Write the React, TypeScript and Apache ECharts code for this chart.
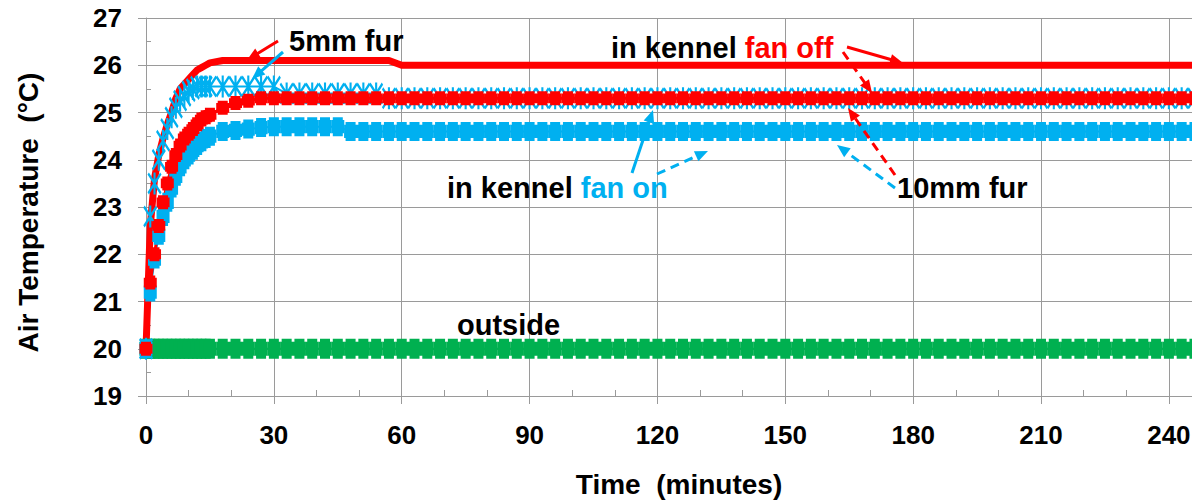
import React, { useEffect, useRef } from "react";
import * as echarts from "echarts";

// Time axis (minutes): one reading per minute during warm-up, then every 3 minutes
const minutes = [
  0, 1, 2, 3, 4, 5, 6, 7, 8, 9, 10, 11, 12, 13, 14, 15,
  18, 21, 24, 27, 30, 33, 36, 39, 42, 45, 48, 51, 54, 57,
  60, 63, 66, 69, 72, 75, 78, 81, 84, 87, 90, 93, 96, 99,
  102, 105, 108, 111, 114, 117, 120, 123, 126, 129, 132, 135, 138, 141,
  144, 147, 150, 153, 156, 159, 162, 165, 168, 171, 174, 177, 180, 183,
  186, 189, 192, 195, 198, 201, 204, 207, 210, 213, 216, 219, 222, 225,
  228, 231, 234, 237, 240, 243, 246,
];

// outside air
const outside = [
  20.0, 20.0, 20.0, 20.0, 20.0, 20.0, 20.0, 20.0, 20.0, 20.0, 20.0, 20.0, 20.0, 20.0, 20.0, 20.0,
  20.0, 20.0, 20.0, 20.0, 20.0, 20.0, 20.0, 20.0, 20.0, 20.0, 20.0, 20.0, 20.0, 20.0,
  20.0, 20.0, 20.0, 20.0, 20.0, 20.0, 20.0, 20.0, 20.0, 20.0, 20.0, 20.0, 20.0, 20.0,
  20.0, 20.0, 20.0, 20.0, 20.0, 20.0, 20.0, 20.0, 20.0, 20.0, 20.0, 20.0, 20.0, 20.0,
  20.0, 20.0, 20.0, 20.0, 20.0, 20.0, 20.0, 20.0, 20.0, 20.0, 20.0, 20.0, 20.0, 20.0,
  20.0, 20.0, 20.0, 20.0, 20.0, 20.0, 20.0, 20.0, 20.0, 20.0, 20.0, 20.0, 20.0, 20.0,
  20.0, 20.0, 20.0, 20.0, 20.0, 20.0, 20.0,
];

// in kennel, fan on, 10mm fur
const fanOn10mm = [
  20.0, 21.2, 21.9, 22.4, 22.8, 23.1, 23.4, 23.65, 23.85, 24.0, 24.1, 24.2, 24.3, 24.38, 24.45, 24.5,
  24.6, 24.62, 24.65, 24.68, 24.7, 24.7, 24.7, 24.7, 24.7, 24.7, 24.6, 24.6, 24.6, 24.6,
  24.6, 24.6, 24.6, 24.6, 24.6, 24.6, 24.6, 24.6, 24.6, 24.6, 24.6, 24.6, 24.6, 24.6,
  24.6, 24.6, 24.6, 24.6, 24.6, 24.6, 24.6, 24.6, 24.6, 24.6, 24.6, 24.6, 24.6, 24.6,
  24.6, 24.6, 24.6, 24.6, 24.6, 24.6, 24.6, 24.6, 24.6, 24.6, 24.6, 24.6, 24.6, 24.6,
  24.6, 24.6, 24.6, 24.6, 24.6, 24.6, 24.6, 24.6, 24.6, 24.6, 24.6, 24.6, 24.6, 24.6,
  24.6, 24.6, 24.6, 24.6, 24.6, 24.6, 24.6,
];

// in kennel, fan on, 5mm fur
const fanOn5mm = [
  20.0, 22.8, 23.5, 24.0, 24.4, 24.65, 24.9, 25.1, 25.25, 25.35, 25.45, 25.5, 25.55, 25.55, 25.55, 25.55,
  25.55, 25.55, 25.55, 25.55, 25.55, 25.4, 25.4, 25.4, 25.4, 25.4, 25.4, 25.4, 25.4, 25.3,
  25.3, 25.3, 25.3, 25.3, 25.3, 25.3, 25.3, 25.3, 25.3, 25.3, 25.3, 25.3, 25.3, 25.3,
  25.3, 25.3, 25.3, 25.3, 25.3, 25.3, 25.3, 25.3, 25.3, 25.3, 25.3, 25.3, 25.3, 25.3,
  25.3, 25.3, 25.3, 25.3, 25.3, 25.3, 25.3, 25.3, 25.3, 25.3, 25.3, 25.3, 25.3, 25.3,
  25.3, 25.3, 25.3, 25.3, 25.3, 25.3, 25.3, 25.3, 25.3, 25.3, 25.3, 25.3, 25.3, 25.3,
  25.3, 25.3, 25.3, 25.3, 25.3, 25.3, 25.3,
];

// in kennel, fan off, 10mm fur
const fanOff10mm = [
  20.0, 21.4, 22.0, 22.6, 23.1, 23.5, 23.85, 24.1, 24.3, 24.45, 24.55, 24.65, 24.75, 24.85, 24.9, 24.95,
  25.1, 25.2, 25.25, 25.3, 25.3, 25.3, 25.3, 25.3, 25.3, 25.3, 25.3, 25.3, 25.3, 25.3,
  25.3, 25.3, 25.3, 25.3, 25.3, 25.3, 25.3, 25.3, 25.3, 25.3, 25.3, 25.3, 25.3, 25.3,
  25.3, 25.3, 25.3, 25.3, 25.3, 25.3, 25.3, 25.3, 25.3, 25.3, 25.3, 25.3, 25.3, 25.3,
  25.3, 25.3, 25.3, 25.3, 25.3, 25.3, 25.3, 25.3, 25.3, 25.3, 25.3, 25.3, 25.3, 25.3,
  25.3, 25.3, 25.3, 25.3, 25.3, 25.3, 25.3, 25.3, 25.3, 25.3, 25.3, 25.3, 25.3, 25.3,
  25.3, 25.3, 25.3, 25.3, 25.3, 25.3, 25.3,
];

// in kennel, fan off, 5mm fur
const fanOff5mm = [
  20.0, 22.6, 23.6, 24.1, 24.45, 24.75, 25.0, 25.3, 25.5, 25.6, 25.7, 25.8, 25.9, 25.95, 26.0, 26.05,
  26.1, 26.1, 26.1, 26.1, 26.1, 26.1, 26.1, 26.1, 26.1, 26.1, 26.1, 26.1, 26.1, 26.1,
  26.0, 26.0, 26.0, 26.0, 26.0, 26.0, 26.0, 26.0, 26.0, 26.0, 26.0, 26.0, 26.0, 26.0,
  26.0, 26.0, 26.0, 26.0, 26.0, 26.0, 26.0, 26.0, 26.0, 26.0, 26.0, 26.0, 26.0, 26.0,
  26.0, 26.0, 26.0, 26.0, 26.0, 26.0, 26.0, 26.0, 26.0, 26.0, 26.0, 26.0, 26.0, 26.0,
  26.0, 26.0, 26.0, 26.0, 26.0, 26.0, 26.0, 26.0, 26.0, 26.0, 26.0, 26.0, 26.0, 26.0,
  26.0, 26.0, 26.0, 26.0, 26.0, 26.0, 26.0,
];

const X_MIN = 0;
const X_MAX = 270;
const X_STEP = 30;
const Y_MIN = 19;
const Y_MAX = 27;
const Y_STEP = 1;

const RED = "#ff0000";
const BLUE = "#00b0f0";
const GREEN = "#00b050";
const GRID = "#9a9a9a";
const FONT = "'Liberation Sans', Arial, Helvetica, sans-serif";

const BLOCK =
  "path://M1.5,0L11.5,0L11.5,3L13,3L13,17L11.5,17L11.5,20L1.5,20L1.5,17L0,17L0,3L1.5,3Z";
const STAR =
  "path://M8.5,0L11.5,0L11.5,20L8.5,20Z M0,2L2,0L20,18L18,20Z M18,0L20,2L2,20L0,18Z";

function pairs(values: number[]) {
  return minutes.map((t, i) => [t, values[i]]);
}

function arrow(x1: number, y1: number, x2: number, y2: number, color: string, dashed: boolean) {
  const dx = x2 - x1;
  const dy = y2 - y1;
  const len = Math.hypot(dx, dy);
  const ux = dx / len;
  const uy = dy / len;
  const hl = 13;
  const hw = 5.5;
  const bx = x2 - ux * hl;
  const by = y2 - uy * hl;
  return [
    {
      type: "line",
      silent: true,
      z: 100,
      shape: { x1, y1, x2: bx + ux * 2, y2: by + uy * 2 },
      style: { stroke: color, lineWidth: 3, lineDash: dashed ? [9, 6] : null, fill: null },
    },
    {
      type: "polygon",
      silent: true,
      z: 100,
      shape: {
        points: [
          [x2, y2],
          [bx - uy * hw, by + ux * hw],
          [bx + uy * hw, by - ux * hw],
        ],
      },
      style: { fill: color },
    },
  ];
}

function label(x: number, y: number, text: string, rich?: any) {
  return {
    type: "text",
    x,
    y,
    silent: true,
    z: 101,
    style: {
      text,
      fill: "#000",
      fontSize: 29,
      fontWeight: "bold",
      fontFamily: FONT,
      align: "left",
      verticalAlign: "middle",
      rich,
    },
  };
}

const richStyle = (color: string) => ({
  fill: color,
  fontSize: 29,
  fontWeight: "bold",
  fontFamily: FONT,
});

export default function App() {
  const ref = useRef<HTMLDivElement>(null);

  useEffect(() => {
    if (!ref.current) return;
    const chart = echarts.init(ref.current, undefined, { renderer: "svg" });

    const commonAxisLabel = {
      fontSize: 26,
      fontWeight: "bold",
      color: "#000",
      fontFamily: FONT,
    };

    const seriesBase = {
      type: "line",
      showAllSymbol: true,
      clip: false,
      silent: true,
      emphasis: { disabled: true },
      animation: false,
    };

    const option: any = {
      animation: false,
      backgroundColor: "#ffffff",
      grid: {
        left: 146,
        top: 18,
        bottom: 106,
        right: 1192 - (146 + 270 * 4.262),
        containLabel: false,
        outerBoundsMode: "none",
      },
      xAxis: [
        {
          type: "value",
          min: X_MIN,
          max: X_MAX,
          interval: X_STEP,
          axisLine: { show: true, onZero: false, lineStyle: { color: GRID, width: 1 } },
          axisTick: { show: true, length: 8, lineStyle: { color: GRID } },
          axisLabel: { ...commonAxisLabel, margin: 26 },
          splitLine: { show: true, lineStyle: { color: GRID, width: 1 } },
        },
        {
          type: "value",
          min: X_MIN,
          max: X_MAX,
          interval: X_STEP,
          position: "bottom",
          axisLine: { show: false, onZero: false },
          axisTick: { show: true, inside: true, length: 6, lineStyle: { color: GRID } },
          minorTick: { show: true, splitNumber: 3, length: 6, lineStyle: { color: GRID } },
          axisLabel: { show: false },
          splitLine: { show: false },
        },
      ],
      yAxis: [
        {
          type: "value",
          min: Y_MIN,
          max: Y_MAX,
          interval: Y_STEP,
          axisLine: { show: true, onZero: false, lineStyle: { color: GRID, width: 1 } },
          axisTick: { show: true, length: 8, lineStyle: { color: GRID } },
          axisLabel: { ...commonAxisLabel, margin: 24 },
          splitLine: { show: true, lineStyle: { color: GRID, width: 1 } },
        },
        {
          type: "value",
          min: Y_MIN,
          max: Y_MAX,
          interval: Y_STEP,
          position: "left",
          axisLine: { show: false, onZero: false },
          axisTick: { show: true, inside: true, length: 5, lineStyle: { color: GRID } },
          minorTick: { show: true, splitNumber: 2, length: 5, lineStyle: { color: GRID } },
          axisLabel: { show: false },
          splitLine: { show: false },
        },
      ],
      series: [
        {
          ...seriesBase,
          name: "outside",
          data: pairs(outside),
          symbol: BLOCK,
          symbolSize: [13, 20],
          lineStyle: { color: GREEN, width: 2 },
          itemStyle: { color: GREEN, borderWidth: 0 },
        },
        {
          ...seriesBase,
          name: "in kennel fan on, 10mm fur",
          data: pairs(fanOn10mm),
          symbol: BLOCK,
          symbolSize: [13, 19],
          lineStyle: { color: BLUE, width: 2 },
          itemStyle: { color: BLUE, borderWidth: 0 },
        },
        {
          ...seriesBase,
          name: "in kennel fan on, 5mm fur",
          data: pairs(fanOn5mm),
          symbol: STAR,
          symbolSize: [14, 22],
          lineStyle: { color: BLUE, width: 2 },
          itemStyle: { color: BLUE, borderWidth: 0 },
        },
        {
          ...seriesBase,
          name: "in kennel fan off, 10mm fur",
          data: pairs(fanOff10mm),
          symbol: BLOCK,
          symbolSize: [13, 14],
          lineStyle: { color: RED, width: 3 },
          itemStyle: { color: RED, borderWidth: 0 },
        },
        {
          ...seriesBase,
          name: "in kennel fan off, 5mm fur",
          data: pairs(fanOff5mm),
          showSymbol: false,
          symbol: "none",
          lineStyle: { color: RED, width: 7, join: "round" },
          itemStyle: { color: RED },
        },
      ],
      graphic: {
        elements: [
          // axis titles
          {
            type: "text",
            x: 28.5,
            y: 212.5,
            rotation: Math.PI / 2,
            silent: true,
            style: {
              text: "Air Temperature  (°C)",
              fill: "#000",
              fontSize: 28,
              fontWeight: "bold",
              fontFamily: FONT,
              align: "center",
              verticalAlign: "middle",
            },
          },
          {
            type: "text",
            x: 679,
            y: 484,
            silent: true,
            style: {
              text: "Time  (minutes)",
              fill: "#000",
              fontSize: 28,
              fontWeight: "bold",
              fontFamily: FONT,
              align: "center",
              verticalAlign: "middle",
            },
          },
          // annotations
          label(289, 41, "5mm fur"),
          label(611, 48, "{a|in kennel }{b|fan off}", { a: richStyle("#000"), b: richStyle(RED) }),
          label(447, 187.5, "{a|in kennel }{b|fan on}", { a: richStyle("#000"), b: richStyle(BLUE) }),
          label(897, 187.5, "10mm fur"),
          label(457, 325, "outside"),
          ...arrow(278, 41, 247, 60, RED, false),
          ...arrow(283, 52, 252, 79, BLUE, false),
          ...arrow(847, 47, 903, 63, RED, false),
          ...arrow(843, 52, 872, 93, RED, true),
          ...arrow(895, 175, 848, 108, RED, true),
          ...arrow(895, 188, 837, 145, BLUE, true),
          ...arrow(632, 173, 653, 110, BLUE, false),
          ...arrow(657, 174, 708, 151, BLUE, true),
        ],
      },
    };

    chart.setOption(option);
    return () => {
      chart.dispose();
    };
  }, []);

  return (
    <div
      ref={ref}
      style={{ position: "absolute", left: 0, top: 0, width: 1192, height: 502, overflow: "hidden" }}
    />
  );
}
